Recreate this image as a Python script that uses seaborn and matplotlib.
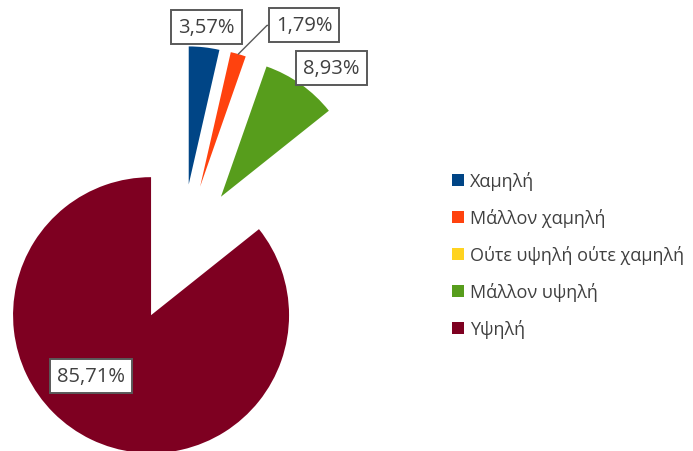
import numpy as np
import matplotlib
matplotlib.use("Agg")
import matplotlib.pyplot as plt
import seaborn as sns

categories = ["Χαμηλή", "Μάλλον χαμηλή", "Ούτε υψηλή ούτε χαμηλή", "Μάλλον υψηλή", "Υψηλή"]
values = [3.57, 1.79, 0.0, 8.93, 85.71]
value_labels = ["3,57%", "1,79%", "", "8,93%", "85,71%"]
colors = ["#004586", "#FF420E", "#FFD320", "#579D1C", "#7E0021"]

sns.set_theme(style="white")
plt.rcParams['font.family'] = ['Open Sans', 'DejaVu Sans']
text_color = "#404040"

fig = plt.figure(figsize=(6.93, 4.52), dpi=100)
ax = fig.add_axes([0, 0, 1, 1])

explode = 0.5
wedges, _ = ax.pie(values, colors=colors, startangle=90, counterclock=False,
                   explode=[explode] * len(values), radius=1.0,
                   wedgeprops=dict(linewidth=0))

# label placement relative to each exploded wedge: (distance, angle shift)
label_place = [(1.15, 0), (1.39, -16.7), (0, 0), (1.23, -5.3), (0.62, -19)]
box = dict(boxstyle="square,pad=0.35", fc="white", ec="#595959", lw=1.4)

for w, lab, (r, dth) in zip(wedges, value_labels, label_place):
    if not lab:
        continue
    mid = np.deg2rad((w.theta1 + w.theta2) / 2)
    cx, cy = w.center
    ang = mid + np.deg2rad(dth)
    tx, ty = cx + r * np.cos(ang), cy + r * np.sin(ang)
    if lab == "1,79%":
        ox, oy = cx + np.cos(mid), cy + np.sin(mid)
        ax.annotate(lab, xy=(ox, oy), xytext=(tx, ty), ha="center", va="center",
                    fontsize=14.5, color=text_color, bbox=box,
                    arrowprops=dict(arrowstyle="-", color="#595959", lw=1.0,
                                    connectionstyle="angle,angleA=0,angleB=45,rad=0",
                                    shrinkA=0, shrinkB=0))
    else:
        ax.text(tx, ty, lab, ha="center", va="center", fontsize=14.5,
                color=text_color, bbox=box)

# pie center sits at pixel (181, 254), radius 138 px
R = 138.0
ax.set_xlim(-181 / R, (693 - 181) / R)
ax.set_ylim(-(452 - 254) / R, 254 / R)
ax.set_aspect("equal", adjustable="box")
ax.axis("off")

leg = ax.legend(wedges, categories, loc="upper left",
                bbox_to_anchor=(452 / 693, 1 - 172 / 452), bbox_transform=fig.transFigure,
                frameon=False, fontsize=13, handlelength=0.65, handleheight=0.65,
                handletextpad=0.35, labelspacing=1.0, borderpad=0, borderaxespad=0)
for t in leg.get_texts():
    t.set_color(text_color)

fig.savefig("out.png", dpi=100)
